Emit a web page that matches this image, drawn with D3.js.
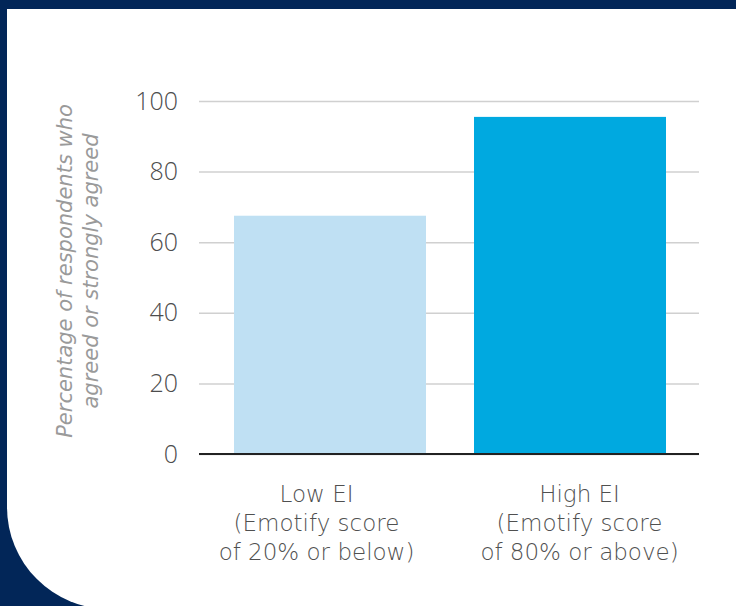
<!DOCTYPE html>
<html>
<head>
<meta charset="utf-8">
<script src="https://cdn.jsdelivr.net/npm/d3@7"></script>
<style>
  html, body { margin: 0; padding: 0; background: #022658; }
  svg { display: block; }
</style>
</head>
<body>
<script>
// data
var categories = ['Low EI', 'High EI'];
var categoryLines = [
    ['Low EI', '(Emotify score', 'of 20% or below)'],
    ['High EI', '(Emotify score', 'of 80% or above)']
];
var values = [67.5, 95.5];
var yTicks = [0, 20, 40, 60, 80, 100];
var yTitle = ['Percentage of respondents who', 'agreed or strongly agreed'];
var barColors = ['#bfe0f3', '#00a9e0'];

var W = 736, H = 606;
var plotLeft = 199, plotRight = 699;

var svg = d3.select('body')
    .append('svg')
    .attr('width', W)
    .attr('height', H);

// navy frame + white card with big rounded bottom-left corner
svg.append('rect')
    .attr('width', W).attr('height', H)
    .attr('fill', '#022658');

var r = 102, cx = 7, cy = 9, cb = 609;
svg.append('path')
    .attr('d', 'M' + cx + ',' + cy + 'H' + (W + 10) + 'V' + cb +
        'H' + (cx + r) + 'A' + r + ',' + r + ' 0 0 1 ' + cx + ',' + (cb - r) + 'Z')
    .attr('fill', '#ffffff');

var yScale = d3.scaleLinear()
    .domain([0, 100])
    .range([454, 101]);

var xScale = d3.scaleBand()
    .domain(categories)
    .range([222, 678])
    .paddingInner(0.2)
    .paddingOuter(0.05);

// labels sit a little off the bar centres in the original
var labelScale = d3.scalePoint()
    .domain(categories)
    .range([316, 579]);

// gridlines + y labels
var yAxis = d3.axisLeft(yScale)
    .tickValues(yTicks)
    .tickSize(-(plotRight - plotLeft))
    .tickPadding(21);

var gy = svg.append('g')
    .attr('transform', 'translate(' + plotLeft + ',0)')
    .call(yAxis);
gy.select('.domain').remove();
gy.selectAll('.tick line')
    .attr('stroke', '#d0d0d0')
    .attr('stroke-width', 1.5);
gy.selectAll('.tick text')
    .attr('fill', '#4d4d4d')
    .style('font-family', 'Open Sans, sans-serif')
    .style('font-weight', 300)
    .style('font-size', '25px');

// bars
svg.selectAll('rect.bar')
    .data(values)
    .enter()
    .append('rect')
    .attr('class', 'bar')
    .attr('x', function(d, i){ return xScale(categories[i]); })
    .attr('y', function(d){ return yScale(d); })
    .attr('width', xScale.bandwidth())
    .attr('height', function(d){ return yScale(0) - yScale(d); })
    .attr('fill', function(d, i){ return barColors[i]; });

// baseline
svg.append('line')
    .attr('x1', plotLeft).attr('x2', plotRight)
    .attr('y1', yScale(0)).attr('y2', yScale(0))
    .attr('stroke', '#222')
    .attr('stroke-width', 2);

// x labels, multi-line
var xAxis = d3.axisBottom(labelScale).tickSize(0).tickFormat('');
var gx = svg.append('g')
    .attr('transform', 'translate(0,' + yScale(0) + ')')
    .call(xAxis);
gx.select('.domain').remove();
gx.selectAll('.tick text')
    .attr('fill', '#505050')
    .attr('y', 0)
    .attr('dy', null)
    .style('font-family', 'DejaVu Sans, sans-serif')
    .style('font-weight', 200)
    .style('font-size', '23px')
    .each(function(d, i){
        var t = d3.select(this);
        categoryLines[i].forEach(function(line, j){
            t.append('tspan')
                .attr('x', 0)
                .attr('y', 48 + j * 29)
                .text(line);
        });
    });

// y title
var title = svg.append('text')
    .attr('transform', 'translate(79,271) rotate(-90)')
    .attr('text-anchor', 'middle')
    .attr('fill', '#9a9a9a')
    .style('font-family', 'DejaVu Sans, sans-serif')
    .style('font-weight', 200)
    .style('font-style', 'italic')
    .style('font-size', '21px');
yTitle.forEach(function(line, j){
    title.append('tspan')
        .attr('x', 0)
        .attr('y', -7 + j * 26)
        .text(line);
});
</script>
</body>
</html>
